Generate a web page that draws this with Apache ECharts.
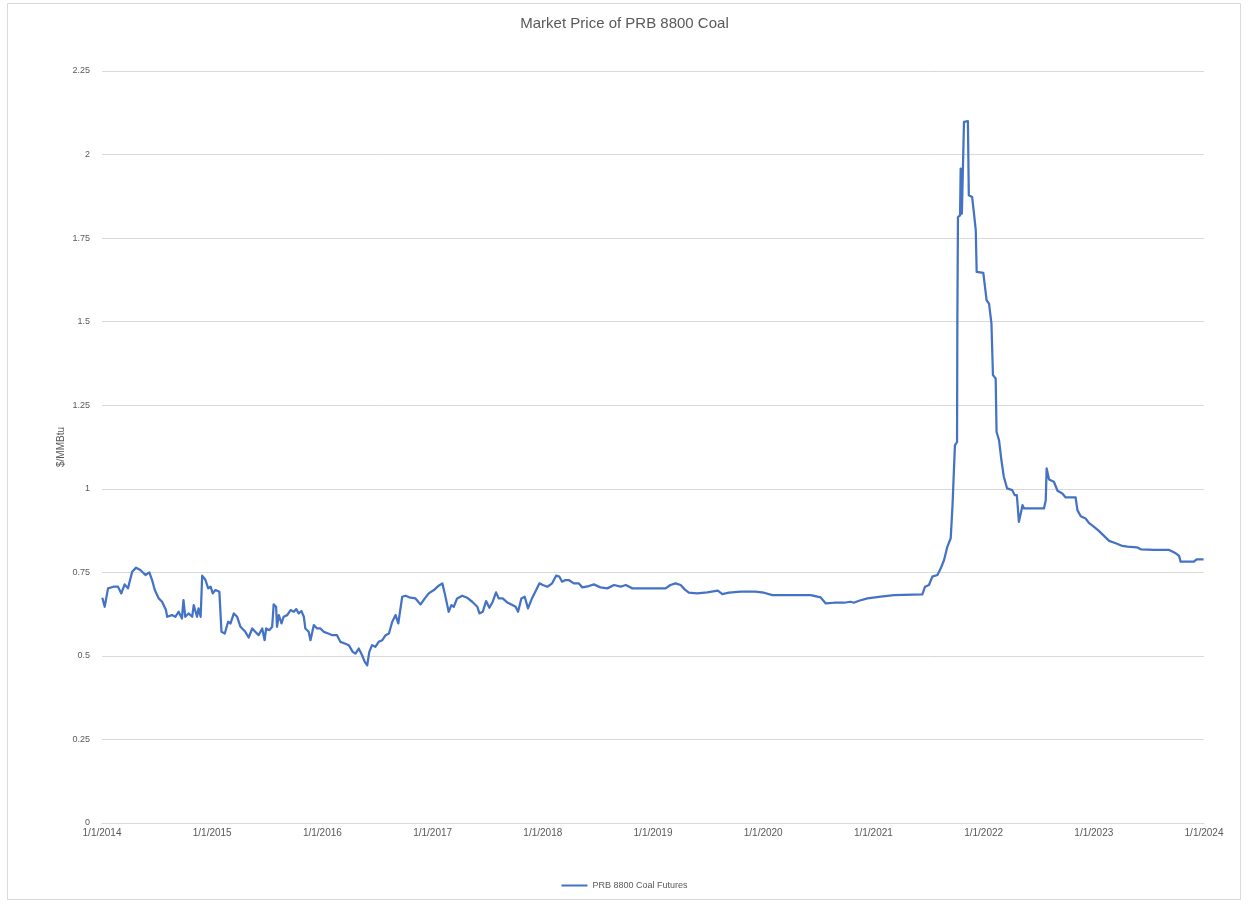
<!DOCTYPE html>
<html>
<head>
<meta charset="utf-8">
<title>Market Price of PRB 8800 Coal</title>
<script src="https://cdn.jsdelivr.net/npm/echarts@6/dist/echarts.min.js"></script>
<style>
  html, body { margin: 0; padding: 0; background: #ffffff; }
  #chart { width: 1249px; height: 907px; }
</style>
</head>
<body>
<div id="chart"></div>
<script>
// PRB 8800 coal futures, $/MMBtu
const dates = [
  '2014-01-02','2014-01-10','2014-01-21','2014-02-08','2014-02-23','2014-03-06','2014-03-17','2014-03-28',
  '2014-04-11','2014-04-24','2014-05-08','2014-05-25','2014-06-07','2014-06-16','2014-06-25','2014-07-08',
  '2014-07-19','2014-08-01','2014-08-05','2014-08-21','2014-09-01','2014-09-12','2014-09-23','2014-09-28',
  '2014-10-04','2014-10-15','2014-10-27','2014-11-01','2014-11-12','2014-11-17','2014-11-24','2014-11-29',
  '2014-12-10','2014-12-19','2014-12-27','2015-01-03','2015-01-12','2015-01-25','2015-02-01','2015-02-12',
  '2015-02-23','2015-03-03','2015-03-14','2015-03-25','2015-04-05','2015-04-21','2015-05-02','2015-05-14',
  '2015-05-24','2015-06-04','2015-06-16','2015-06-24','2015-06-29','2015-07-10','2015-07-19','2015-07-24',
  '2015-08-01','2015-08-04','2015-08-10','2015-08-19','2015-08-26','2015-09-07','2015-09-18','2015-09-29',
  '2015-10-07','2015-10-15','2015-10-24','2015-11-01','2015-11-06','2015-11-17','2015-11-23','2015-12-04',
  '2015-12-15','2015-12-26','2016-01-06','2016-01-21','2016-02-03','2016-02-19','2016-03-01','2016-03-16',
  '2016-03-29','2016-04-11','2016-04-20','2016-05-01','2016-05-12','2016-05-21','2016-05-29','2016-06-05',
  '2016-06-14','2016-06-25','2016-07-06','2016-07-18','2016-07-29','2016-08-09','2016-08-20','2016-08-31',
  '2016-09-09','2016-09-22','2016-10-03','2016-10-19','2016-11-05','2016-11-22','2016-12-06','2016-12-19',
  '2017-01-05','2017-01-21','2017-02-02','2017-02-10','2017-02-23','2017-03-04','2017-03-12','2017-03-23',
  '2017-04-09','2017-04-25','2017-05-12','2017-05-29','2017-06-05','2017-06-16','2017-06-27','2017-07-08',
  '2017-07-19','2017-07-30','2017-08-08','2017-08-21','2017-09-05','2017-09-19','2017-10-03','2017-10-11',
  '2017-10-22','2017-11-02','2017-11-13','2017-11-26','2017-12-10','2017-12-21','2018-01-01','2018-01-16',
  '2018-02-01','2018-02-14','2018-02-25','2018-03-06','2018-03-17','2018-03-28','2018-04-14','2018-04-30',
  '2018-05-12','2018-06-03','2018-06-19','2018-07-11','2018-08-03','2018-08-25','2018-09-16','2018-10-03',
  '2018-10-25','2018-11-21','2019-01-04','2019-02-12','2019-02-28','2019-03-17','2019-04-03','2019-04-16',
  '2019-04-30','2019-05-28','2019-06-30','2019-08-04','2019-08-19','2019-09-10','2019-10-19','2019-12-07',
  '2020-01-04','2020-02-01','2020-03-21','2020-06-07','2020-07-10','2020-07-27','2020-08-23','2020-09-25',
  '2020-10-17','2020-10-28','2020-11-14','2020-12-12','2021-01-25','2021-03-10','2021-06-12','2021-06-21',
  '2021-07-04','2021-07-15','2021-08-01','2021-08-12','2021-08-23','2021-09-03','2021-09-14','2021-09-20',
  '2021-09-25','2021-09-28','2021-10-05','2021-10-06','2021-10-08','2021-10-15','2021-10-17','2021-10-21',
  '2021-10-25','2021-10-28','2021-11-10','2021-11-13','2021-11-24','2021-11-29','2021-12-06','2021-12-09',
  '2021-12-31','2022-01-11','2022-01-19','2022-01-27','2022-02-01','2022-02-10','2022-02-13','2022-02-21',
  '2022-03-01','2022-03-09','2022-03-20','2022-04-06','2022-04-14','2022-04-21','2022-04-23','2022-04-28',
  '2022-05-04','2022-05-10','2022-05-15','2022-07-20','2022-07-26','2022-07-29','2022-08-06','2022-08-22',
  '2022-09-03','2022-09-19','2022-09-30','2022-11-02','2022-11-08','2022-11-19','2022-12-05','2022-12-16',
  '2023-01-02','2023-01-18','2023-02-04','2023-02-21','2023-03-15','2023-04-06','2023-04-23','2023-05-24',
  '2023-06-06','2023-07-20','2023-09-08','2023-09-30','2023-10-11','2023-10-16','2023-11-29','2023-12-08',
  '2023-12-31'
];

const prices = [
  0.674,0.647,0.702,0.707,0.707,0.687,0.714,0.702,
  0.752,0.764,0.757,0.742,0.750,0.727,0.697,0.672,
  0.662,0.637,0.617,0.622,0.617,0.632,0.612,0.667,
  0.617,0.627,0.617,0.652,0.617,0.642,0.617,0.740,
  0.727,0.702,0.707,0.687,0.697,0.692,0.572,0.567,
  0.602,0.597,0.627,0.617,0.587,0.572,0.555,0.582,
  0.572,0.562,0.582,0.547,0.582,0.577,0.587,0.654,
  0.647,0.587,0.622,0.597,0.617,0.622,0.637,0.632,
  0.640,0.627,0.634,0.617,0.582,0.572,0.547,0.592,
  0.582,0.582,0.572,0.567,0.562,0.562,0.542,0.537,
  0.532,0.512,0.507,0.522,0.502,0.482,0.472,0.512,
  0.532,0.527,0.542,0.547,0.562,0.567,0.602,0.622,
  0.597,0.677,0.680,0.674,0.672,0.654,0.672,0.687,
  0.697,0.710,0.717,0.687,0.632,0.652,0.647,0.672,
  0.680,0.674,0.662,0.647,0.627,0.632,0.664,0.644,
  0.662,0.690,0.672,0.672,0.660,0.654,0.647,0.632,
  0.672,0.677,0.642,0.672,0.697,0.717,0.712,0.707,
  0.717,0.740,0.737,0.722,0.727,0.727,0.717,0.717,
  0.705,0.709,0.714,0.705,0.702,0.712,0.707,0.712,
  0.702,0.702,0.702,0.702,0.712,0.717,0.712,0.699,
  0.689,0.687,0.690,0.695,0.685,0.689,0.692,0.692,
  0.689,0.682,0.682,0.682,0.675,0.657,0.659,0.659,
  0.662,0.659,0.665,0.672,0.677,0.682,0.684,0.707,
  0.712,0.737,0.742,0.762,0.787,0.827,0.852,0.951,
  0.956,1.130,1.140,1.495,1.813,1.818,1.958,1.823,
  1.823,2.098,2.100,1.878,1.873,1.833,1.774,1.649,
  1.646,1.564,1.554,1.495,1.340,1.330,1.170,1.146,
  1.086,1.036,1.001,0.996,0.981,0.981,0.961,0.901,
  0.901,0.951,0.941,0.941,0.966,1.061,1.028,1.021,
  0.994,0.986,0.974,0.974,0.936,0.918,0.911,0.898,
  0.886,0.874,0.859,0.844,0.837,0.829,0.827,0.825,
  0.819,0.817,0.817,0.807,0.799,0.782,0.782,0.789,
  0.789
];

const chartTitle = 'Market Price of PRB 8800 Coal';
const seriesName = 'PRB 8800 Coal Futures';
const yAxisTitle = '$/MMBtu';
const yTicks = { min: 0, max: 2.25, step: 0.25 };
const xYears = { first: 2014, last: 2024 };

// Mean Julian year: 1970-01-01 + 44 of these lands exactly on 2014-01-01
const YEAR_MS = 365.25 * 86400000;

const points = dates.map((d, i) => [Date.parse(d + 'T00:00:00Z'), prices[i]]);

const chart = echarts.init(document.getElementById('chart'), null, { renderer: 'canvas' });

const textColor = '#595959';
const gridColor = '#d9d9d9';
const font = "'Liberation Sans Narrow', 'Liberation Sans', Arial, sans-serif";

chart.setOption({
  backgroundColor: '#ffffff',
  animation: false,
  title: {
    text: chartTitle,
    left: 'center',
    top: 11,
    textStyle: { color: textColor, fontSize: 15, fontWeight: 'normal', fontFamily: "'Liberation Sans', Arial, sans-serif" }
  },
  graphic: [{
    type: 'rect',
    shape: { x: 7.5, y: 3.5, width: 1233, height: 896 },
    style: { fill: 'none', stroke: '#d9d9d9', lineWidth: 1 },
    silent: true
  }],
  legend: {
    bottom: 12,
    left: 'center',
    itemWidth: 26,
    itemHeight: 2,
    itemGap: 4,
    icon: 'rect',
    textStyle: { color: textColor, fontSize: 9, fontFamily: font },
    data: [seriesName]
  },
  grid: { left: 102, right: 45, top: 71, bottom: 84, containLabel: false },
  xAxis: {
    type: 'value',
    min: (xYears.first - 1970) * YEAR_MS,
    max: (xYears.last - 1970) * YEAR_MS,
    interval: YEAR_MS,
    axisLine: { show: true, lineStyle: { color: gridColor, width: 1 } },
    axisTick: { show: false },
    splitLine: { show: false },
    axisLabel: {
      color: textColor,
      fontSize: 10,
      fontFamily: font,
      margin: 5,
      showMinLabel: true,
      showMaxLabel: true,
      formatter: v => '1/1/' + Math.round(1970 + v / YEAR_MS)
    }
  },
  yAxis: {
    type: 'value',
    min: yTicks.min,
    max: yTicks.max,
    interval: yTicks.step,
    name: yAxisTitle,
    nameLocation: 'middle',
    nameGap: 36,
    nameMoveOverlap: false,
    nameTextStyle: { color: textColor, fontSize: 10, fontFamily: font },
    axisLine: { show: false },
    axisTick: { show: false },
    splitLine: { show: true, lineStyle: { color: gridColor, width: 1 } },
    axisLabel: { color: textColor, fontSize: 9, fontFamily: font, margin: 12 }
  },
  series: [{
    name: seriesName,
    type: 'line',
    data: points,
    showSymbol: false,
    symbol: 'none',
    lineStyle: { color: '#4472C4', width: 2.25, join: 'round' },
    itemStyle: { color: '#4472C4' }
  }]
});
</script>
</body>
</html>
